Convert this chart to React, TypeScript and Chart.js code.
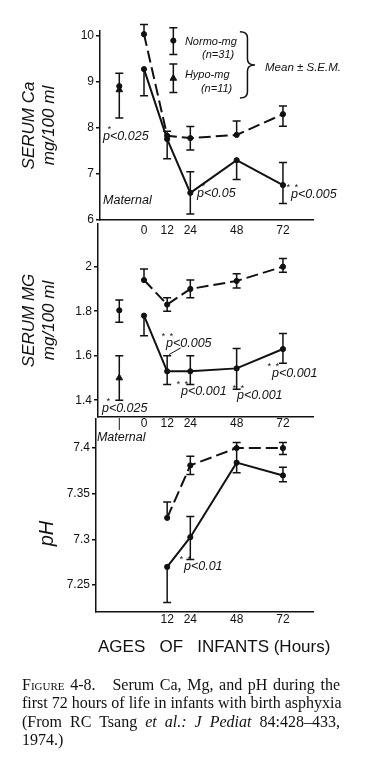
import React, { useEffect, useRef } from "react";
import { Chart, registerables } from "chart.js";

Chart.register(...registerables);

const INK = "#111";
const FONT = "'Liberation Sans', Arial, Helvetica, sans-serif";
const SERIF = "'Liberation Serif', 'Times New Roman', serif";

// ---------- data ----------
const MATERNAL_X = -12.8; // position of the "Maternal" column on the hours axis
const LEGEND_X = 15.2;
const hours = [0, 12, 24, 48, 72];
const phHours = [12, 24, 48, 72];

// Serum Ca (mg/100 ml)
const caNormo = [10.04, 7.83, 7.78, 7.85, 8.3];
const caNormoHi = [10.25, 7.93, 8.03, 8.15, 8.48];
const caNormoLo = [null, null, 7.52, null, 8.04];
const caHypo = [9.28, 7.76, 6.59, 7.3, 6.76];
const caHypoHi = [null, null, 7.05, null, 7.25];
const caHypoLo = [8.7, 7.33, 6.13, 6.88, 6.36];
const caMatNormo = [8.91];
const caMatNormoHi = [9.19];
const caMatHypo = [8.83];
const caMatHypoLo = [8.22];
const legendNormo = [9.9];
const legendNormoHi = [10.18];
const legendNormoLo = [9.6];
const legendHypo = [9.08];
const legendHypoHi = [9.39];
const legendHypoLo = [8.77];

// Serum Mg (mg/100 ml)
const mgNormo = [1.94, 1.83, 1.9, 1.936, 2.0];
const mgNormoHi = [1.99, 1.86, 1.94, 1.968, 2.037];
const mgNormoLo = [null, 1.8, 1.86, 1.904, 1.975];
const mgHypo = [1.78, 1.53, 1.53, 1.543, 1.63];
const mgHypoHi = [null, 1.6, 1.6, 1.632, 1.7];
const mgHypoLo = [1.69, 1.47, 1.47, 1.449, 1.566];
const mgMatNormo = [1.804];
const mgMatNormoHi = [1.85];
const mgMatNormoLo = [1.75];
const mgMatHypo = [1.5];
const mgMatHypoHi = [1.6];
const mgMatHypoLo = [1.4];

// pH
const phNormo = [7.3236, 7.381, 7.4, 7.4];
const phNormoHi = [7.341, 7.391, 7.406, 7.406];
const phNormoLo = [null, 7.371, null, 7.393];
const phHypo = [7.27, 7.3025, 7.384, 7.37];
const phHypoHi = [null, 7.325, 7.4, 7.379];
const phHypoLo = [7.231, 7.278, 7.373, 7.363];

// ticks
const caYTicks = [6, 7, 8, 9, 10];
const caYLabels = ["6", "7", "8", "9", "10"];
const mgYTicks = [1.4, 1.6, 1.8, 2];
const mgYLabels = ["1.4", "1.6", "1.8", "2"];
const phYTicks = [7.25, 7.3, 7.35, 7.4];
const phYLabels = ["7.25", "7.3", "7.35", "7.4"];
const caXTicks = [0, 12, 24, 48, 72];
const caXLabels = ["0", "12", "24", "48", "72"];
const mgXTicks = [MATERNAL_X, 0, 12, 24, 48, 72];
const mgXLabels = ["|", "0", "12", "24", "48", "72"];
const phXTicks = [12, 24, 48, 72];
const phXLabels = ["12", "24", "48", "72"];

// ---------- layout helpers ----------
const ORIGIN_PX = 144;
const PX_PER_HOUR = 1.93;
const RIGHT_PX = 313;
const xMinFor = (left: number) => (left - ORIGIN_PX) / PX_PER_HOUR;
const X_MAX = (RIGHT_PX - ORIGIN_PX) / PX_PER_HOUR;

const pts = (xs: number[], ys: number[]) => xs.map((x, i) => ({ x, y: ys[i] }));

const pointOpts = (style: string) => ({
  pointStyle: style,
  pointRadius: style === "triangle" ? 3.8 : 2.6,
  pointBorderWidth: 1,
  pointBackgroundColor: INK,
  pointBorderColor: INK,
});

const normoLine = (xs: number[], ys: number[], hi: any[], lo: any[]) => ({
  data: pts(xs, ys),
  showLine: true,
  borderColor: INK,
  borderWidth: 2,
  borderDash: [12, 5],
  ...pointOpts("circle"),
  clip: false,
  errHi: hi,
  errLo: lo,
});
const hypoLine = (xs: number[], ys: number[], hi: any[], lo: any[]) => ({
  data: pts(xs, ys),
  showLine: true,
  borderColor: INK,
  borderWidth: 2,
  ...pointOpts("circle"),
  clip: false,
  errHi: hi,
  errLo: lo,
});
const marker = (x: number, ys: number[], hi: any[], lo: any[], style: string) => ({
  data: pts([x], ys),
  showLine: false,
  ...pointOpts(style),
  clip: false,
  errHi: hi,
  errLo: lo,
});

type Ann = { x: number; y: number; text: string; stars?: number; size?: number; rotate?: boolean };

function drawErrorBars(chart: any) {
  const { ctx } = chart;
  const xs = chart.scales.x;
  const ys = chart.scales.y;
  ctx.save();
  ctx.strokeStyle = INK;
  ctx.lineWidth = 1.5;
  chart.data.datasets.forEach((ds: any) => {
    const hi = ds.errHi;
    const lo = ds.errLo;
    if (!hi && !lo) return;
    ds.data.forEach((pt: any, i: number) => {
      const h = hi ? hi[i] : null;
      const l = lo ? lo[i] : null;
      if (h == null && l == null) return;
      const px = xs.getPixelForValue(pt.x);
      const yT = ys.getPixelForValue(h ?? pt.y);
      const yB = ys.getPixelForValue(l ?? pt.y);
      ctx.beginPath();
      ctx.moveTo(px, yT);
      ctx.lineTo(px, yB);
      if (h != null) {
        ctx.moveTo(px - 4, yT);
        ctx.lineTo(px + 4, yT);
      }
      if (l != null) {
        ctx.moveTo(px - 4, yB);
        ctx.lineTo(px + 4, yB);
      }
      ctx.stroke();
    });
  });
  ctx.restore();
}

function drawExtras(chart: any, spec: any) {
  const { ctx } = chart;
  const xs = chart.scales.x;
  const ys = chart.scales.y;
  ctx.save();
  ctx.fillStyle = INK;
  ctx.strokeStyle = INK;
  ctx.textBaseline = "middle";
  (spec.annotations as Ann[]).forEach((a) => {
    const px = xs.getPixelForValue(a.x);
    const py = ys.getPixelForValue(a.y);
    ctx.font = `italic ${a.size ?? 12.5}px ${FONT}`;
    if (a.rotate) {
      ctx.save();
      ctx.translate(px, py);
      ctx.rotate(-Math.PI / 2);
      ctx.textAlign = "center";
      ctx.fillText(a.text, 0, 0);
      ctx.restore();
      return;
    }
    ctx.textAlign = "left";
    ctx.fillText(a.text, px, py);
    if (a.stars) {
      ctx.font = `italic 9px ${FONT}`;
      ctx.textAlign = "center";
      const offs = a.stars === 1 ? [6] : [-3, 5];
      offs.forEach((o) => ctx.fillText("*", px + o, py - 7));
    }
  });
  if (spec.lines) {
    ctx.lineWidth = 1;
    spec.lines.forEach((l: number[]) => {
      ctx.beginPath();
      ctx.moveTo(xs.getPixelForValue(l[0]), ys.getPixelForValue(l[1]));
      ctx.lineTo(xs.getPixelForValue(l[2]), ys.getPixelForValue(l[3]));
      ctx.stroke();
    });
  }
  if (spec.brace) {
    const b = spec.brace;
    const x0 = xs.getPixelForValue(b.x0);
    const x1 = xs.getPixelForValue(b.x1);
    const yT = ys.getPixelForValue(b.yTop);
    const yB = ys.getPixelForValue(b.yBot);
    const xm = (x0 + x1) / 2;
    const ym = (yT + yB) / 2;
    const r = 6;
    ctx.lineWidth = 1.5;
    ctx.beginPath();
    ctx.moveTo(x0, yT);
    ctx.quadraticCurveTo(xm, yT, xm, yT + r);
    ctx.lineTo(xm, ym - r);
    ctx.quadraticCurveTo(xm, ym, x1, ym);
    ctx.quadraticCurveTo(xm, ym, xm, ym + r);
    ctx.lineTo(xm, yB - r);
    ctx.quadraticCurveTo(xm, yB, x0, yB);
    ctx.stroke();
  }
  ctx.restore();
}

function buildConfig(p: any): any {
  return {
    type: "scatter",
    data: { datasets: p.datasets },
    options: {
      responsive: false,
      maintainAspectRatio: false,
      animation: false,
      devicePixelRatio: 1,
      events: [],
      layout: { padding: { top: p.padTop, right: 375 - RIGHT_PX, left: 0, bottom: 0 } },
      plugins: { legend: { display: false }, tooltip: { enabled: false } },
      scales: {
        x: {
          type: "linear",
          position: "bottom",
          min: xMinFor(p.axisLeft),
          max: X_MAX,
          afterBuildTicks: (s: any) => {
            s.ticks = p.xTicks.map((v: number) => ({ value: v }));
          },
          afterFit: (s: any) => {
            s.height = p.xAxisHeight;
          },
          ticks: {
            autoSkip: false,
            maxRotation: 0,
            minRotation: 0,
            padding: p.xPad,
            color: INK,
            font: { size: 12, family: FONT },
            callback: (_v: any, i: number) => p.xLabels[i],
          },
          grid: { display: false, drawTicks: false },
          border: { display: true, color: INK, width: 1.5 },
        },
        y: {
          type: "linear",
          position: "left",
          min: p.yMin,
          max: p.yMax,
          afterBuildTicks: (s: any) => {
            s.ticks = p.yTicks.map((v: number) => ({ value: v }));
          },
          afterFit: (s: any) => {
            s.width = p.axisLeft;
          },
          ticks: {
            padding: 2,
            color: INK,
            font: { size: 12, family: FONT },
            callback: (_v: any, i: number) => p.yLabels[i],
          },
          grid: { display: true, drawOnChartArea: false, drawTicks: true, tickLength: 4, color: INK, lineWidth: 1.5 },
          border: { display: true, color: INK, width: 1.5 },
          title: p.title
            ? {
                display: true,
                text: p.title,
                color: INK,
                font: { size: 17, style: "italic", family: FONT },
                padding: { top: 18.8, bottom: 0 },
              }
            : { display: false },
        },
      },
    },
    plugins: [
      {
        id: "extras",
        beforeDatasetsDraw: (chart: any) => drawErrorBars(chart),
        afterDraw: (chart: any) => drawExtras(chart, p),
      },
    ],
  };
}

const caPanel = {
  top: 0,
  height: 245,
  axisLeft: 100,
  padTop: 31,
  xAxisHeight: 25,
  xPad: 3,
  yMin: 6,
  yMax: 10.1087,
  yTicks: caYTicks,
  yLabels: caYLabels,
  xTicks: caXTicks,
  xLabels: caXLabels,
  title: ["SERUM Ca", "mg/100 ml"],
  datasets: [
    normoLine(hours, caNormo, caNormoHi, caNormoLo),
    hypoLine(hours, caHypo, caHypoHi, caHypoLo),
    marker(MATERNAL_X, caMatNormo, caMatNormoHi, null as any, "circle"),
    marker(MATERNAL_X, caMatHypo, null as any, caMatHypoLo, "triangle"),
    marker(LEGEND_X, legendNormo, legendNormoHi, legendNormoLo, "circle"),
    marker(LEGEND_X, legendHypo, legendHypoHi, legendHypoLo, "triangle"),
  ],
  annotations: [
    { x: -21.2, y: 7.81, text: "p<0.025", stars: 1 },
    { x: -21.2, y: 6.43, text: "Maternal" },
    { x: 27.5, y: 6.58, text: "p<0.05", stars: 1 },
    { x: 76.2, y: 6.56, text: "p<0.005", stars: 2 },
    { x: 21.2, y: 9.88, text: "Normo-mg", size: 11 },
    { x: 30.1, y: 9.59, text: "(n=31)", size: 11 },
    { x: 21.2, y: 9.15, text: "Hypo-mg", size: 11 },
    { x: 29.5, y: 8.86, text: "(n=11)", size: 11 },
    { x: 62.7, y: 9.3, text: "Mean ± S.E.M.", size: 11.5 },
  ],
  brace: { x0: 49.7, x1: 57.5, yTop: 10.09, yBot: 8.65 },
};

const mgPanel = {
  top: 215,
  height: 230,
  axisLeft: 98,
  padTop: 7,
  xAxisHeight: 28.3,
  xPad: 0,
  yMin: 1.3258,
  yMax: 2.1911,
  yTicks: mgYTicks,
  yLabels: mgYLabels,
  xTicks: mgXTicks,
  xLabels: mgXLabels,
  title: ["SERUM MG", "mg/100 ml"],
  datasets: [
    normoLine(hours, mgNormo, mgNormoHi, mgNormoLo),
    hypoLine(hours, mgHypo, mgHypoHi, mgHypoLo),
    marker(MATERNAL_X, mgMatNormo, mgMatNormoHi, mgMatNormoLo, "circle"),
    marker(MATERNAL_X, mgMatHypo, mgMatHypoHi, mgMatHypoLo, "triangle"),
  ],
  annotations: [
    { x: -21.8, y: 1.363, text: "p<0.025", stars: 1 },
    { x: 11.4, y: 1.656, text: "p<0.005", stars: 2 },
    { x: 19.2, y: 1.437, text: "p<0.001", stars: 2 },
    { x: 48.2, y: 1.422, text: "p<0.001", stars: 2 },
    { x: 66.3, y: 1.519, text: "p<0.001", stars: 2 },
  ],
  lines: [[13.0, 1.605, 19.0, 1.635]],
};

const phPanel = {
  top: 410,
  height: 230,
  axisLeft: 96,
  padTop: 8,
  xAxisHeight: 28.3,
  xPad: 1,
  yMin: 7.22098,
  yMax: 7.43152,
  yTicks: phYTicks,
  yLabels: phYLabels,
  xTicks: phXTicks,
  xLabels: phXLabels,
  title: null,
  datasets: [
    normoLine(phHours, phNormo, phNormoHi, phNormoLo),
    hypoLine(phHours, phHypo, phHypoHi, phHypoLo),
  ],
  annotations: [
    { x: -24.4, y: 7.411, text: "Maternal" },
    { x: 20.7, y: 7.27, text: "p<0.01", stars: 2 },
    { x: -50, y: 7.3065, text: "pH", size: 20, rotate: true },
  ],
};

function Panel({ spec }: { spec: any }) {
  const ref = useRef<HTMLCanvasElement>(null);
  useEffect(() => {
    const chart = new Chart(ref.current as HTMLCanvasElement, buildConfig(spec));
    return () => chart.destroy();
  }, []);
  return (
    <canvas
      ref={ref}
      width={375}
      height={spec.height}
      style={{ position: "absolute", left: 0, top: spec.top, width: 375, height: spec.height }}
    />
  );
}

const justify: React.CSSProperties = { textAlign: "justify", textAlignLast: "justify", whiteSpace: "nowrap" };

export default function App() {
  return (
    <div
      style={{
        position: "fixed",
        left: 0,
        top: 0,
        width: 375,
        height: 769,
        background: "#fff",
        overflow: "hidden",
      }}
    >
      <Panel spec={caPanel} />
      <Panel spec={mgPanel} />
      <Panel spec={phPanel} />
      <div
        style={{
          position: "absolute",
          left: 98,
          top: 637,
          font: `17px ${FONT}`,
          lineHeight: "20px",
          whiteSpace: "pre",
          color: INK,
        }}
      >
        {"AGES   OF   INFANTS (Hours)"}
      </div>
      <div
        style={{
          position: "absolute",
          left: 22,
          top: 676,
          width: 318,
          font: `16px ${SERIF}`,
          lineHeight: "18.3px",
          color: INK,
        }}
      >
        <div style={justify}>
          <span style={{ fontVariant: "small-caps" }}>Figure</span> 4-8.{"\u00a0\u00a0"} Serum Ca, Mg, and pH during the
        </div>
        <div style={justify}>first 72 hours of life in infants with birth asphyxia</div>
        <div style={justify}>
          (From RC Tsang <i>et al.: J Pediat</i> 84:428–433,
        </div>
        <div>1974.)</div>
      </div>
    </div>
  );
}
